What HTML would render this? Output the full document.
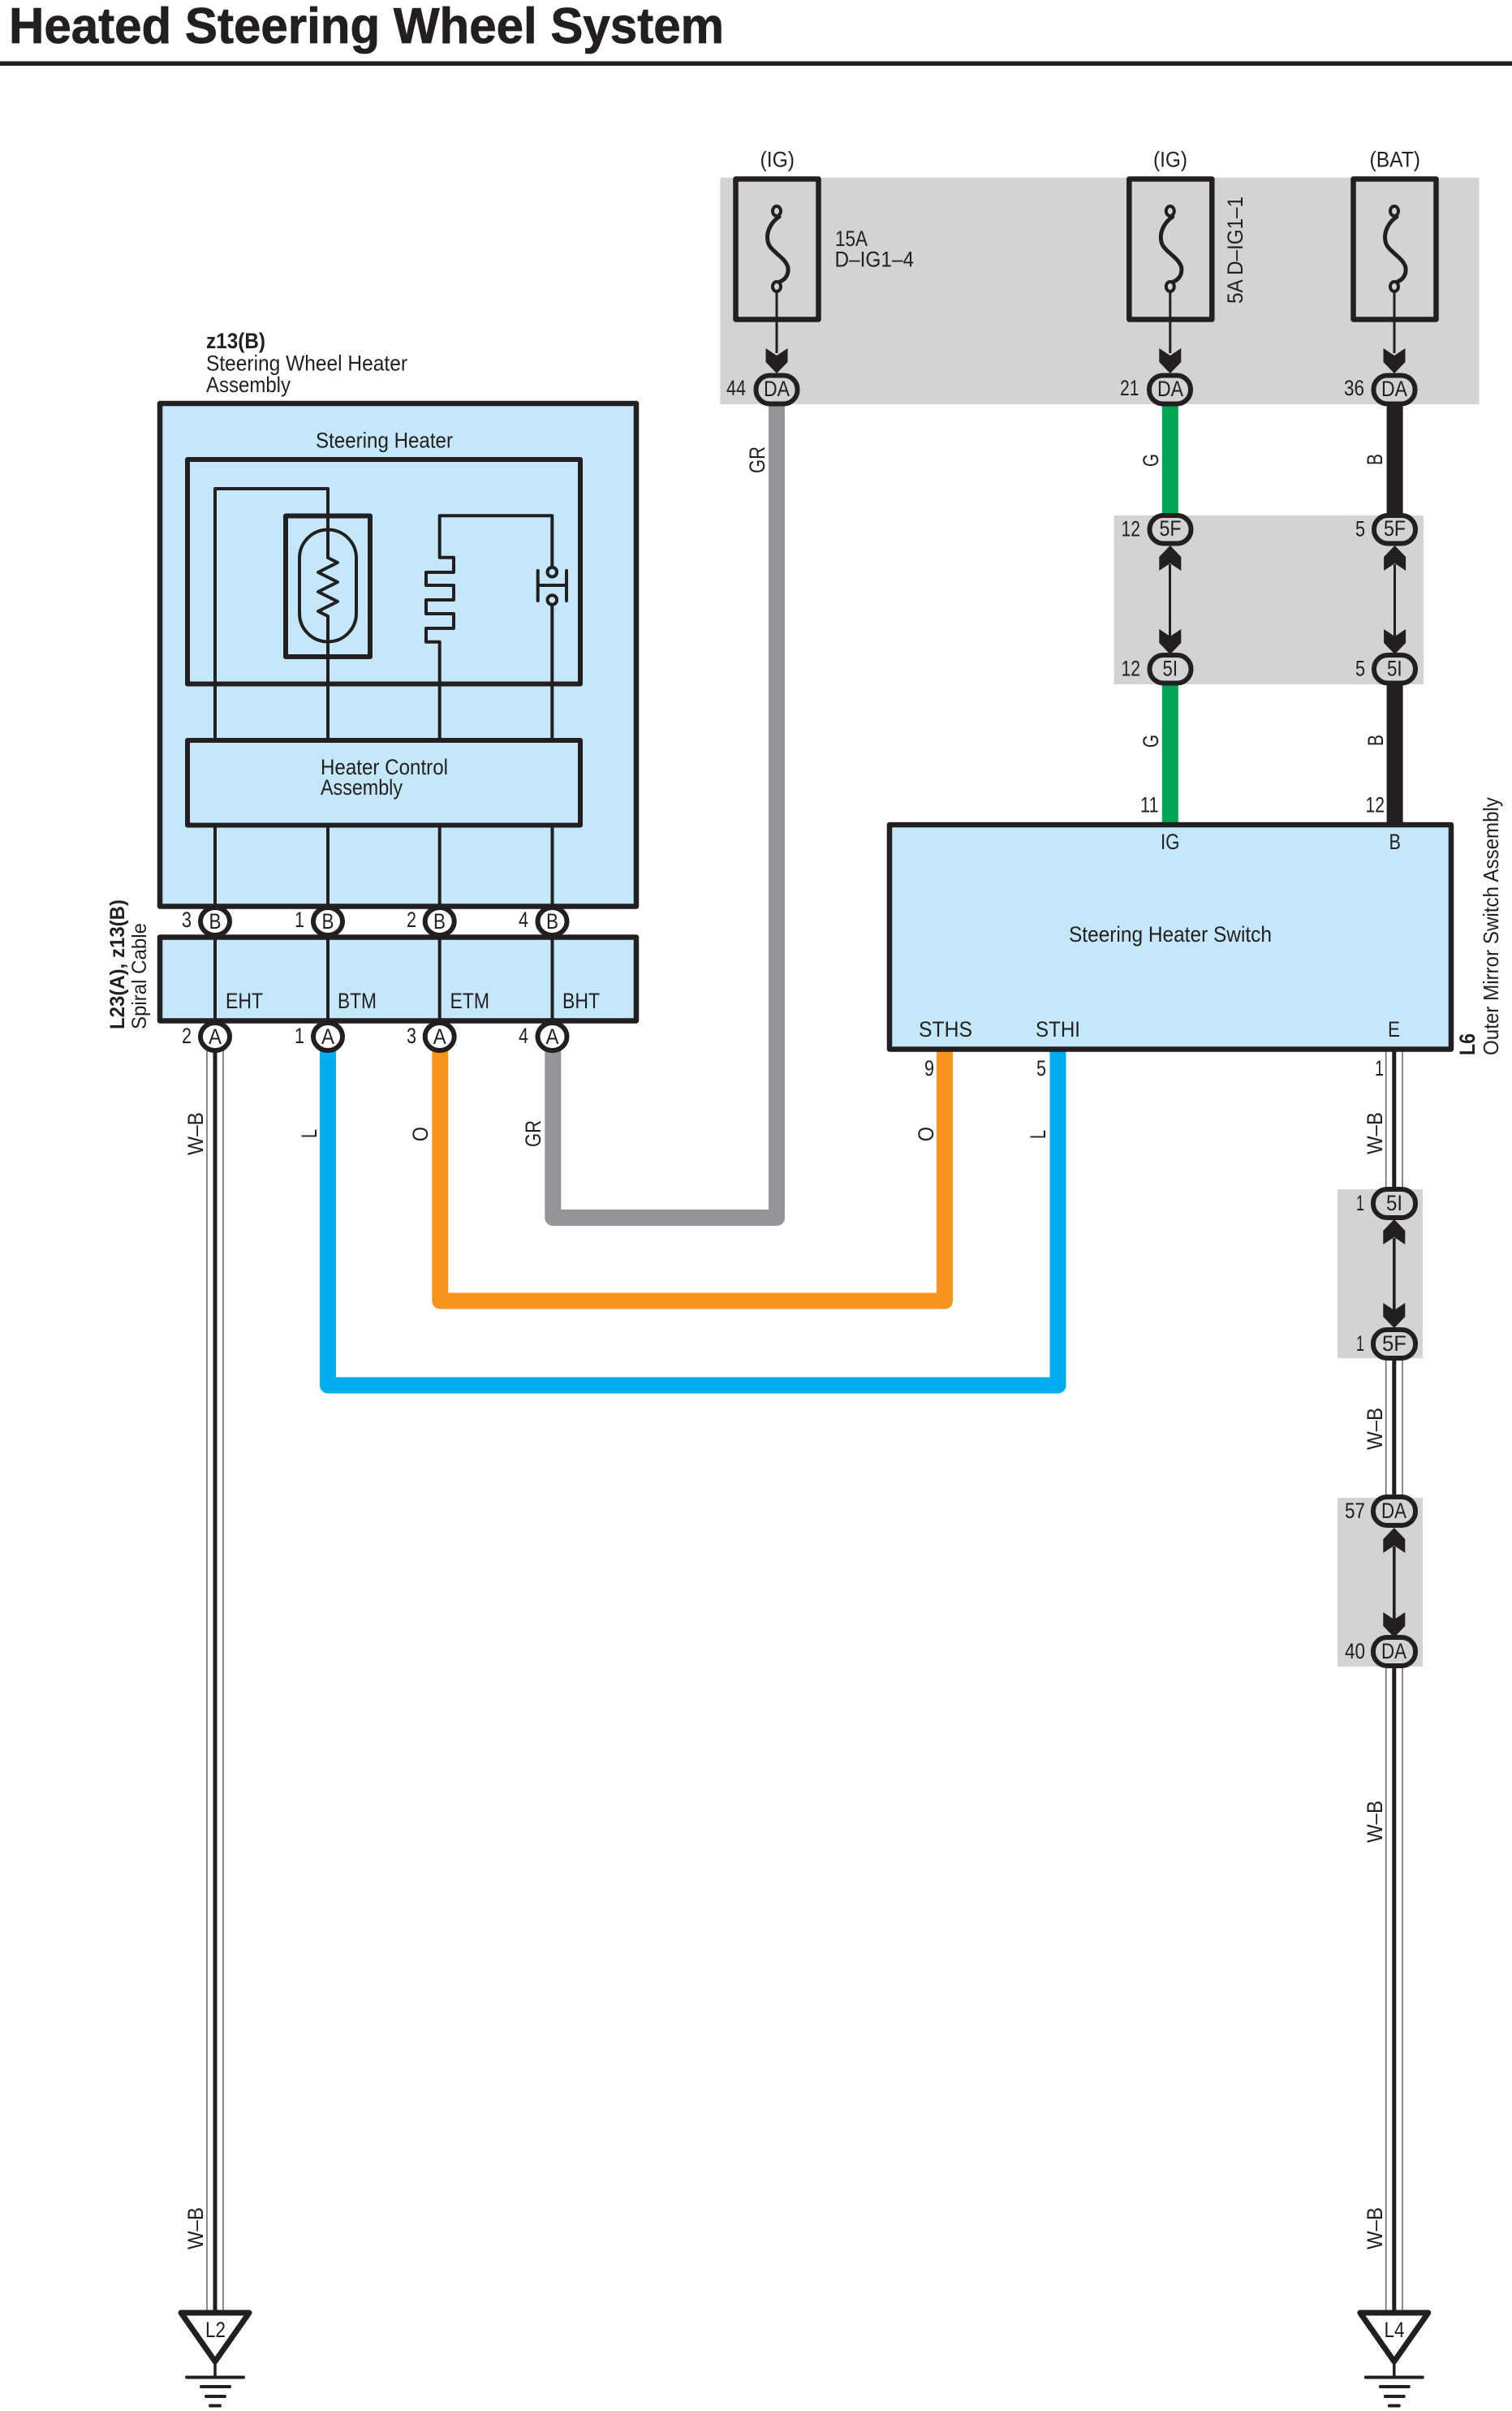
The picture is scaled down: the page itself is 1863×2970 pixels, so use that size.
<!DOCTYPE html>
<html><head><meta charset="utf-8"><title>Heated Steering Wheel System</title>
<style>html,body{margin:0;padding:0;background:#fff;width:1863px;height:2970px;overflow:hidden}svg{display:block}
text{font-family:"Liberation Sans",sans-serif;font-size:27px;fill:#231f20}</style></head><body>
<svg xmlns="http://www.w3.org/2000/svg" width="1863" height="2970" viewBox="0 0 1863 2970">
<defs>
<polygon id="dn" points="-13.5,0 0,9 13.5,0 13.5,17 0,31 -13.5,17" fill="#231f20"/>
<polygon id="up" points="-13.5,0 0,-9 13.5,0 13.5,-17 0,-31 -13.5,-17" fill="#231f20"/>
<g id="fuse" fill="none" stroke="#231f20">
<rect x="-50.5" y="220.5" width="102" height="173" stroke-width="6.5" fill="none" stroke-linejoin="round"/>
<path d="M3 267C-9 275-13 288-11 297C-9 310 11 316 14 330C15 340 9 345 4 347" stroke-width="5" stroke-linecap="round"/>
<ellipse cx="0" cy="260" rx="5" ry="6" stroke-width="4"/><ellipse cx="0" cy="353" rx="5" ry="6" stroke-width="4"/>
<line x1="0" y1="359" x2="0" y2="435" stroke-width="3"/>
</g>
<g id="gnd" fill="none" stroke="#231f20" stroke-linecap="round">
<polygon points="-42,2849 42,2849 0,2909" fill="#fff" stroke-width="7" stroke-linejoin="round"/>
<line x1="0" y1="2910" x2="0" y2="2928" stroke-width="3.5"/>
<line x1="-35" y1="2928.5" x2="35" y2="2928.5" stroke-width="4"/>
<line x1="-17" y1="2940" x2="18" y2="2940" stroke-width="4"/>
<line x1="-11" y1="2952" x2="12" y2="2952" stroke-width="4"/>
<line x1="-6" y1="2963.5" x2="6" y2="2963.5" stroke-width="4"/>
</g>
</defs>
<rect width="1863" height="2970" fill="#fff"/>
<text x="11" y="53" style="font-size:62px;font-weight:bold;stroke:#231f20;stroke-width:.8px" textLength="881" lengthAdjust="spacingAndGlyphs">Heated Steering Wheel System</text>
<rect x="0" y="75.5" width="1863" height="5.5" fill="#231f20"/>

<!-- grey zones -->
<g fill="#d1d3d4">
<rect x="887.5" y="219" width="935" height="279"/>
<rect x="1372.5" y="635" width="381.5" height="208"/>
<rect x="1648" y="1465" width="105" height="208"/>
<rect x="1648" y="1845" width="105" height="208"/>
</g>

<!-- fuses -->
<use href="#fuse" x="957"/><use href="#fuse" x="1441.8"/><use href="#fuse" x="1718"/>
<use href="#dn" x="957" y="429"/><use href="#dn" x="1441.8" y="429"/><use href="#dn" x="1718" y="429"/>

<!-- coloured wires -->
<g fill="none" stroke-width="20" stroke-linejoin="round" stroke-linecap="butt">
<path d="M957 495V1500H681.3V1290" stroke="#939598"/>
<path d="M542.3 1290V1602.5H1164V1285" stroke="#f7941d"/>
<path d="M404 1290V1706.5H1303.5V1285" stroke="#00aeef"/>
<path d="M1441.8 495V640M1441.8 838V1015" stroke="#00a651"/>
<path d="M1718.6 495V640M1718.6 838V1015" stroke="#231f20"/>
</g>

<!-- W-B wires -->
<g fill="none" stroke="#6d6e71" stroke-width="1.6">
<path d="M255 1290V2848M275 1290V2848"/>
<path d="M1707.7 1295V1470M1728 1295V1470M1707.7 1670V1850M1728 1670V1850M1707.7 2050V2848M1728 2050V2848"/>
</g>
<g fill="none" stroke="#231f20" stroke-width="5">
<path d="M265 1290V2848"/>
<path d="M1717.8 1295V1470M1717.8 1660V1850M1717.8 2040V2848"/>
</g>

<!-- link lines in grey zones -->
<g stroke="#231f20" fill="none">
<path d="M1441.5 695V785M1718.5 695V785" stroke-width="3"/>
<path d="M1717.8 1525V1615M1717.8 1905V1995" stroke-width="3.6"/>
</g>
<use href="#up" x="1441.8" y="703"/><use href="#up" x="1718.6" y="703"/>
<use href="#dn" x="1441.8" y="775"/><use href="#dn" x="1718.6" y="775"/>
<use href="#up" x="1717.8" y="1533"/><use href="#dn" x="1717.8" y="1605"/>
<use href="#up" x="1717.8" y="1913"/><use href="#dn" x="1717.8" y="1986"/>

<!-- steering wheel heater assembly -->
<g stroke="#231f20" stroke-linejoin="round">
<rect x="197" y="497" width="587" height="619.5" fill="#c4e7fa" stroke-width="6.5"/>
<rect x="197" y="1154.5" width="587" height="103" fill="#c4e7fa" stroke-width="6.5"/>
<rect x="231" y="566" width="484" height="276.5" fill="none" stroke-width="6"/>
<rect x="231" y="912" width="484" height="104.5" fill="none" stroke-width="6"/>
<rect x="352" y="635.5" width="104" height="173.5" fill="none" stroke-width="6"/>
<rect x="369" y="652.5" width="70" height="138" rx="35" ry="35" fill="none" stroke-width="4"/>
<g fill="none" stroke-width="4">
<path d="M265 912V602H404V687L416 693L392 705L416 717L392 729L416 741L392 753L404 759V912"/>
<path d="M541.7 912V790.7H525V774H559V756H525V739H559V721H525V705H559V686.7H541.7V635.3H680.3V698M680.3 746V912"/>
<path d="M265 1016.5V1116M404 1016.5V1116M541.7 1016.5V1116M680.5 1016.5V1116M265 1157V1258M404 1157V1258M541.7 1157V1258M680.5 1157V1258"/>
<circle cx="680.3" cy="704.7" r="5.8"/><circle cx="680.3" cy="739" r="5.8"/>
<path d="M662.7 703V740M698 703V740M662.7 721H698" stroke-linecap="round"/>
</g>
</g>

<!-- switch box -->
<rect x="1096" y="1016" width="692" height="276.5" fill="#c4e7fa" stroke="#231f20" stroke-width="6.5" stroke-linejoin="round"/>

<!-- round connectors -->
<g fill="#fff" stroke="#231f20" stroke-width="6">
<ellipse cx="265" cy="1135" rx="18" ry="17"/><ellipse cx="404" cy="1135" rx="18" ry="17"/><ellipse cx="541.7" cy="1135" rx="18" ry="17"/><ellipse cx="680.5" cy="1135" rx="18" ry="17"/>
<ellipse cx="265" cy="1277" rx="18" ry="17"/><ellipse cx="404" cy="1277" rx="18" ry="17"/><ellipse cx="541.7" cy="1277" rx="18" ry="17"/><ellipse cx="680.5" cy="1277" rx="18" ry="17"/>
</g>
<!-- pill connectors -->
<g fill="#d1d3d4" stroke="#231f20" stroke-width="6">
<rect x="931.5" y="462.5" width="51" height="35" rx="17"/>
<rect x="1416" y="462.5" width="51" height="35" rx="17"/>
<rect x="1692.5" y="462.5" width="51" height="35" rx="17"/>
<rect x="1416.5" y="635" width="51" height="34.5" rx="17"/>
<rect x="1693" y="635" width="51" height="34.5" rx="17"/>
<rect x="1416.5" y="807" width="51" height="34.5" rx="17"/>
<rect x="1693" y="807" width="51" height="34.5" rx="17"/>
<rect x="1692" y="1465" width="52" height="35" rx="17"/>
<rect x="1692" y="1638" width="52" height="35" rx="17"/>
<rect x="1692" y="1844" width="52" height="35" rx="17"/>
<rect x="1692" y="2017" width="52" height="35" rx="17"/>
</g>

<!-- grounds -->
<use href="#gnd" x="265"/><use href="#gnd" x="1717.8"/>
<g id="labels">
<!-- headers -->
<text x="254" y="429" style="font-weight:bold" textLength="73" lengthAdjust="spacingAndGlyphs">z13(B)</text>
<text x="254" y="456.5" textLength="248" lengthAdjust="spacingAndGlyphs">Steering Wheel Heater</text>
<text x="254" y="483" textLength="104" lengthAdjust="spacingAndGlyphs">Assembly</text>
<text x="389" y="551.5" textLength="169" lengthAdjust="spacingAndGlyphs">Steering Heater</text>
<text x="395" y="954" textLength="157" lengthAdjust="spacingAndGlyphs">Heater Control</text>
<text x="395" y="979" textLength="101" lengthAdjust="spacingAndGlyphs">Assembly</text>
<!-- B row -->
<text x="224" y="1142" textLength="12" lengthAdjust="spacingAndGlyphs">3</text>
<text x="363" y="1142" textLength="12" lengthAdjust="spacingAndGlyphs">1</text>
<text x="501" y="1142" textLength="12" lengthAdjust="spacingAndGlyphs">2</text>
<text x="639" y="1142" textLength="12" lengthAdjust="spacingAndGlyphs">4</text>
<text x="257.5" y="1144" textLength="15" lengthAdjust="spacingAndGlyphs">B</text>
<text x="396.5" y="1144" textLength="15" lengthAdjust="spacingAndGlyphs">B</text>
<text x="534" y="1144" textLength="15" lengthAdjust="spacingAndGlyphs">B</text>
<text x="673" y="1144" textLength="15" lengthAdjust="spacingAndGlyphs">B</text>
<!-- pins -->
<text x="278" y="1242" textLength="46" lengthAdjust="spacingAndGlyphs">EHT</text>
<text x="416" y="1242" textLength="48" lengthAdjust="spacingAndGlyphs">BTM</text>
<text x="554.5" y="1242" textLength="48.5" lengthAdjust="spacingAndGlyphs">ETM</text>
<text x="693" y="1242" textLength="46" lengthAdjust="spacingAndGlyphs">BHT</text>
<!-- A row -->
<text x="224" y="1285" textLength="12" lengthAdjust="spacingAndGlyphs">2</text>
<text x="363" y="1285" textLength="12" lengthAdjust="spacingAndGlyphs">1</text>
<text x="501" y="1285" textLength="12" lengthAdjust="spacingAndGlyphs">3</text>
<text x="639" y="1285" textLength="12" lengthAdjust="spacingAndGlyphs">4</text>
<text x="257" y="1286" textLength="16" lengthAdjust="spacingAndGlyphs">A</text>
<text x="396" y="1286" textLength="16" lengthAdjust="spacingAndGlyphs">A</text>
<text x="533.7" y="1286" textLength="16" lengthAdjust="spacingAndGlyphs">A</text>
<text x="672.5" y="1286" textLength="16" lengthAdjust="spacingAndGlyphs">A</text>
<!-- rotated left -->
<text transform="translate(153 1268) rotate(-90)" style="font-size:25px;font-weight:bold" textLength="160" lengthAdjust="spacingAndGlyphs">L23(A), z13(B)</text>
<text transform="translate(180 1268) rotate(-90)" style="font-size:25px" textLength="131" lengthAdjust="spacingAndGlyphs">Spiral Cable</text>
<text transform="translate(250 1423) rotate(-90)" textLength="53" lengthAdjust="spacingAndGlyphs">W–B</text>
<text transform="translate(250 2771) rotate(-90)" textLength="52" lengthAdjust="spacingAndGlyphs">W–B</text>
<text transform="translate(390 1402) rotate(-90)" textLength="11" lengthAdjust="spacingAndGlyphs">L</text>
<text transform="translate(527 1406) rotate(-90)" textLength="18" lengthAdjust="spacingAndGlyphs">O</text>
<text transform="translate(666 1413) rotate(-90)" textLength="33" lengthAdjust="spacingAndGlyphs">GR</text>
<!-- fuse labels -->
<text x="936.5" y="205.5" textLength="42.5" lengthAdjust="spacingAndGlyphs">(IG)</text>
<text x="1421" y="205.5" textLength="42" lengthAdjust="spacingAndGlyphs">(IG)</text>
<text x="1687.5" y="205.5" textLength="62.5" lengthAdjust="spacingAndGlyphs">(BAT)</text>
<text x="1029" y="303" textLength="40" lengthAdjust="spacingAndGlyphs">15A</text>
<text x="1028.5" y="328.5" textLength="97.5" lengthAdjust="spacingAndGlyphs">D–IG1–4</text>
<text transform="translate(1531 374) rotate(-90)" textLength="132" lengthAdjust="spacingAndGlyphs">5A  D–IG1–1</text>
<!-- DA top -->
<text x="895" y="487" textLength="24" lengthAdjust="spacingAndGlyphs">44</text>
<text x="941" y="488" textLength="32" lengthAdjust="spacingAndGlyphs">DA</text>
<text x="1380" y="487" textLength="23.5" lengthAdjust="spacingAndGlyphs">21</text>
<text x="1426" y="488" textLength="32" lengthAdjust="spacingAndGlyphs">DA</text>
<text x="1656" y="487" textLength="25" lengthAdjust="spacingAndGlyphs">36</text>
<text x="1702" y="488" textLength="32" lengthAdjust="spacingAndGlyphs">DA</text>
<!-- wire letters top -->
<text transform="translate(942 583) rotate(-90)" textLength="33" lengthAdjust="spacingAndGlyphs">GR</text>
<text transform="translate(1427 575) rotate(-90)" textLength="16" lengthAdjust="spacingAndGlyphs">G</text>
<text transform="translate(1703 573) rotate(-90)" textLength="14" lengthAdjust="spacingAndGlyphs">B</text>
<text transform="translate(1427 921) rotate(-90)" textLength="16" lengthAdjust="spacingAndGlyphs">G</text>
<text transform="translate(1704 919) rotate(-90)" textLength="14" lengthAdjust="spacingAndGlyphs">B</text>
<!-- 5F 5I -->
<text x="1381.5" y="660.5" textLength="23.5" lengthAdjust="spacingAndGlyphs">12</text>
<text x="1428.5" y="660" textLength="27" lengthAdjust="spacingAndGlyphs">5F</text>
<text x="1670" y="660.5" textLength="12" lengthAdjust="spacingAndGlyphs">5</text>
<text x="1705" y="660" textLength="27" lengthAdjust="spacingAndGlyphs">5F</text>
<text x="1381.5" y="832.5" textLength="23.5" lengthAdjust="spacingAndGlyphs">12</text>
<text x="1432.5" y="832.5" textLength="18.5" lengthAdjust="spacingAndGlyphs">5I</text>
<text x="1670" y="832.5" textLength="12" lengthAdjust="spacingAndGlyphs">5</text>
<text x="1709" y="832.5" textLength="18.5" lengthAdjust="spacingAndGlyphs">5I</text>
<!-- switch -->
<text x="1405" y="1000.5" textLength="22.5" lengthAdjust="spacingAndGlyphs">11</text>
<text x="1682.5" y="1000.5" textLength="23.5" lengthAdjust="spacingAndGlyphs">12</text>
<text x="1430" y="1046" textLength="23.5" lengthAdjust="spacingAndGlyphs">IG</text>
<text x="1711.5" y="1046" textLength="14.5" lengthAdjust="spacingAndGlyphs">B</text>
<text x="1317" y="1160" textLength="250" lengthAdjust="spacingAndGlyphs">Steering Heater Switch</text>
<text x="1132" y="1277" textLength="66" lengthAdjust="spacingAndGlyphs">STHS</text>
<text x="1276" y="1277" textLength="55" lengthAdjust="spacingAndGlyphs">STHI</text>
<text x="1710" y="1277" textLength="15" lengthAdjust="spacingAndGlyphs">E</text>
<text x="1139" y="1325" textLength="12" lengthAdjust="spacingAndGlyphs">9</text>
<text x="1277" y="1325" textLength="12" lengthAdjust="spacingAndGlyphs">5</text>
<text x="1694" y="1325" textLength="11" lengthAdjust="spacingAndGlyphs">1</text>
<text transform="translate(1150 1406) rotate(-90)" textLength="18" lengthAdjust="spacingAndGlyphs">O</text>
<text transform="translate(1288 1403) rotate(-90)" textLength="11" lengthAdjust="spacingAndGlyphs">L</text>
<text transform="translate(1817 1300) rotate(-90)" style="font-weight:bold" textLength="27" lengthAdjust="spacingAndGlyphs">L6</text>
<text transform="translate(1846 1300) rotate(-90)" style="font-size:26px" textLength="318" lengthAdjust="spacingAndGlyphs">Outer Mirror Switch Assembly</text>
<!-- right column -->
<text transform="translate(1703 1422) rotate(-90)" textLength="52" lengthAdjust="spacingAndGlyphs">W–B</text>
<text transform="translate(1703 1786) rotate(-90)" textLength="52" lengthAdjust="spacingAndGlyphs">W–B</text>
<text transform="translate(1703 2270) rotate(-90)" textLength="52" lengthAdjust="spacingAndGlyphs">W–B</text>
<text transform="translate(1703 2771) rotate(-90)" textLength="52" lengthAdjust="spacingAndGlyphs">W–B</text>
<text x="1671" y="1491" textLength="10" lengthAdjust="spacingAndGlyphs">1</text>
<text x="1708" y="1491" textLength="20" lengthAdjust="spacingAndGlyphs">5I</text>
<text x="1671" y="1664" textLength="10" lengthAdjust="spacingAndGlyphs">1</text>
<text x="1703" y="1664" textLength="30" lengthAdjust="spacingAndGlyphs">5F</text>
<text x="1657" y="1870" textLength="25" lengthAdjust="spacingAndGlyphs">57</text>
<text x="1702" y="1870" textLength="31" lengthAdjust="spacingAndGlyphs">DA</text>
<text x="1657" y="2043" textLength="25" lengthAdjust="spacingAndGlyphs">40</text>
<text x="1702" y="2043" textLength="31" lengthAdjust="spacingAndGlyphs">DA</text>
<!-- ground labels -->
<text x="253" y="2879" textLength="25" lengthAdjust="spacingAndGlyphs">L2</text>
<text x="1705.5" y="2879" textLength="25" lengthAdjust="spacingAndGlyphs">L4</text>
</g>
</svg>
</body></html>
